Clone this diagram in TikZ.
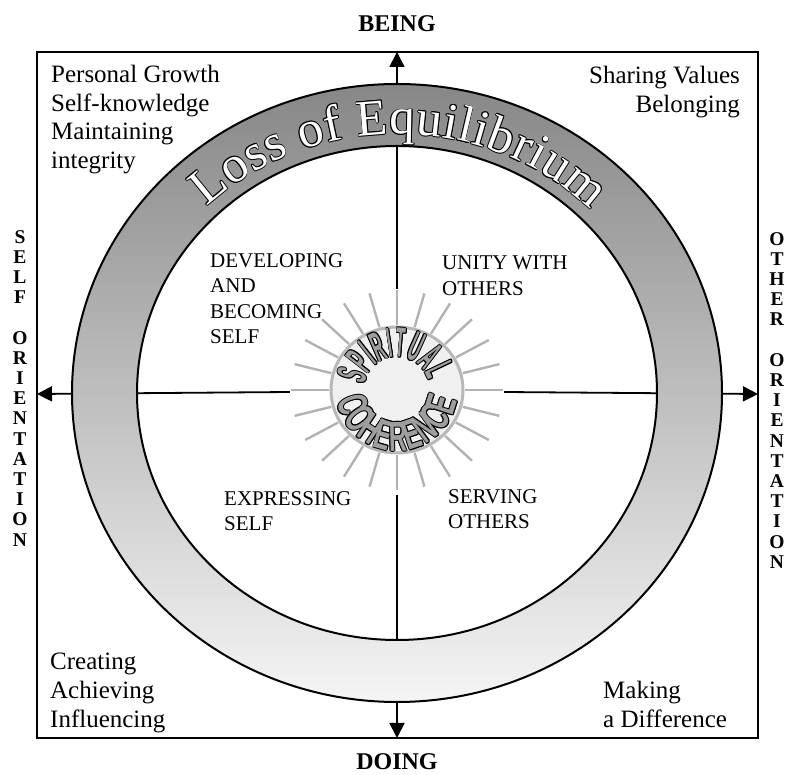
\documentclass[tikz,border=0pt]{standalone}
\usepackage{fontspec}
\setmainfont{Liberation Serif}
\newfontfamily\spiritfont[FakeStretch=0.38]{Liberation Sans}
\newfontfamily\coherfont[FakeStretch=0.6]{Liberation Sans}
\usetikzlibrary{arrows.meta,shapes.geometric,decorations.text}

\newcommand\ringfont{\fontsize{51}{56}\selectfont\color{white}}
\newcommand\spiritstyle{\spiritfont\bfseries\fontsize{42}{44}\selectfont\color{black!38}}
\newcommand\coherstyle{\coherfont\bfseries\fontsize{42}{44}\selectfont\color{black!38}}

\tikzset{
  frame/.style={draw, line width=1.3pt},
  axis/.style={line width=1.8pt, -{Triangle[length=15pt,width=15pt]}},
  ringedge/.style={draw, line width=2pt},
  ray/.style={draw=black!30, line width=2.4pt},
  hubdisc/.style={ellipse, draw=black!28, fill=black!6, line width=3pt, minimum width=132pt, minimum height=126pt},
  quadlabel/.style={font=\fontsize{21}{25.5}\selectfont, align=left, anchor=north west, inner sep=0pt},
  cornerlabel/.style={font=\fontsize{25}{28.7}\selectfont, inner sep=0pt},
  pole/.style={font=\bfseries\fontsize{24}{28}\selectfont, anchor=base, inner sep=0pt},
  sidelabel/.style={font=\bfseries\fontsize{19.5}{20.2}\selectfont, align=center, anchor=north, inner sep=0pt}
}

% outlined letters along an arc: #1 format, #2 text, #3 path
\newcommand\outlinedarc[3]{%
  \foreach \ox/\oy in {0.8/0,-0.8/0,0/0.8,0/-0.8,0.6/0.6,-0.6/0.6,0.6/-0.6,-0.6/-0.6}
    \path[shift={(\ox,\oy)}, decorate, decoration={text along path, text align=fit to path, text={|#1\color{black}|#2}}] #3;
  \path[decorate, decoration={text along path, text align=fit to path, text={|#1|#2}}] #3;
}

\begin{document}
\begin{tikzpicture}[x=1pt,y=1pt]
\useasboundingbox (-397,-382) rectangle (390,393);
\draw[frame] (-360,-345) rectangle (361,341);
\coordinate (beingend) at (0,341);
\coordinate (doingend) at (0,-345);
\coordinate (selfend) at (-360,-1);
\coordinate (otherend) at (361,-1);
\node[ellipse, minimum width=214pt, minimum height=206pt] (burst) at (0,1) {};
\draw[axis] (burst.north) -- (beingend);
\draw[axis] (burst.south) -- (doingend);
\draw[axis] (burst.west) -- (selfend);
\draw[axis] (burst.east) -- (otherend);
% ring
\shade[top color=black!47, bottom color=black!4, even odd rule] (0,0) ellipse [x radius=325, y radius=309] (0,0) ellipse [x radius=260, y radius=247];
\draw[ringedge] (0,0) ellipse [x radius=325, y radius=309];
\draw[ringedge] (0,0) ellipse [x radius=260, y radius=247];
\outlinedarc{\ringfont}{Loss of Equilibrium}{(0,0) ++(134:274 and 259) arc[start angle=134, end angle=45, x radius=274, y radius=259]}
% hub
\node[hubdisc] (hub) at (0,3) {};
\foreach \a in {0,15,...,345}
  \draw[ray] ([shift={(\a:68 and 65)}]hub.center) -- ([shift={(\a:106 and 100)}]hub.center);
\outlinedarc{\spiritstyle}{SPIRITUAL}{(0,3) ++(171:33) arc[start angle=171, end angle=17, radius=33]}
\outlinedarc{\coherstyle}{COHERENCE}{(0,3) ++(190:61) arc[start angle=190, end angle=350, radius=61]}
% labels
\node[pole] (being) at (0,361) {BEING};
\node[pole] (doing) at (0,-377) {DOING};
\node[sidelabel] (selfor) at (-377,163) {S\\E\\L\\F\\[20.2pt]O\\R\\I\\E\\N\\T\\A\\T\\I\\O\\N};
\node[sidelabel] (otheror) at (380,161) {O\\T\\H\\E\\R\\[20.2pt]O\\R\\I\\E\\N\\T\\A\\T\\I\\O\\N};
\node[quadlabel] (developing) at (-187,140) {DEVELOPING\\AND\\BECOMING\\SELF};
\node[quadlabel] (unity) at (45,137) {UNITY WITH\\OTHERS};
\node[quadlabel] (expressing) at (-173,-98) {EXPRESSING\\SELF};
\node[quadlabel] (serving) at (51,-96) {SERVING\\OTHERS};
\node[cornerlabel, align=left, anchor=north west] (growth) at (-346,328) {Personal Growth\\Self-knowledge\\Maintaining\\integrity};
\node[cornerlabel, align=right, anchor=north east] (sharing) at (343,327) {Sharing Values\\Belonging};
\node[cornerlabel, align=left, anchor=north west] (creating) at (-347,-260) {Creating\\Achieving\\Influencing};
\node[cornerlabel, align=left, anchor=north west] (making) at (206,-288) {Making\\a Difference};
\end{tikzpicture}
\end{document}
